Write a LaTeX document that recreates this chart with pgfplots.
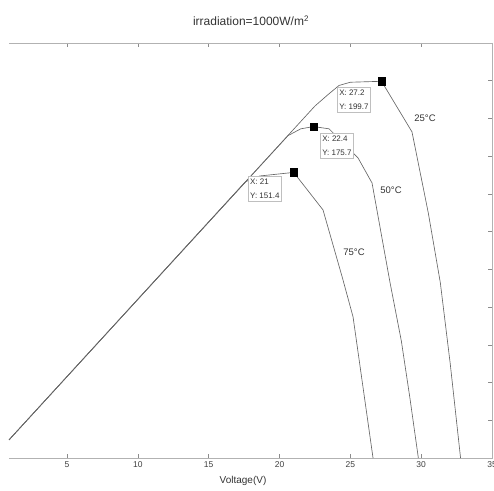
\documentclass[border=0pt]{standalone}
\usepackage{fontspec}
\setmainfont{Liberation Sans}
\usepackage{pgfplots}
\pgfplotsset{compat=1.18}
\begin{document}
\begin{tikzpicture}
\begin{axis}[
  at={(9pt,32pt)}, anchor=south west,
  scale only axis, width=483pt, height=415pt,
  xmin=0.9, xmax=35, ymin=0, ymax=220,
  xtick={5,10,...,35}, ytick={0,20,...,220},
  yticklabels={},
  xtick pos=both, ytick pos=right, xticklabel pos=lower,
  tick align=inside,
  major tick length=4pt,
  tick style={black!45, line width=0.5pt},
  axis line style={draw=none},
  tick label style={font=\fontsize{8.5}{10}\selectfont, text=black!75},
  xticklabel style={yshift=-0.5pt},
  /pgf/number format/assume math mode=true,
  clip=false,
]
\draw[black!30, line width=0.8pt] (rel axis cs:0,0) -- (rel axis cs:1,0) -- (rel axis cs:1,1) -- (rel axis cs:0,1);
% 25 C
\addplot[black!60, line width=0.65pt] coordinates {
(0.9,9.6) (22.5,186.6) (23.4,192.5) (24.2,197.5) (25.0,199.2) (27.2,199.7)
(29.35,172.9) (30.5,130) (31.35,93) (32.05,50) (32.78,0)};
% 50 C
\addplot[black!60, line width=0.65pt] coordinates {
(0.9,9.6) (20.6,170.9) (21.5,174.5) (22.4,175.7) (23.5,174.5)
(25.54,159.1) (26.53,145.8) (27.8,93) (28.6,62) (29.2,32) (29.8,0)};
% 75 C
\addplot[black!60, line width=0.65pt] coordinates {
(0.9,9.6) (17.6,146.5) (18.6,149.5) (21,151.4)
(23.07,131.5) (24.48,94.4) (25.19,74.8) (26.6,0)};
% maximum power points
\addplot[only marks, mark=square*, mark size=3.8pt, black] coordinates {(27.2,199.7) (22.4,175.7) (21,151.4)};
% data tips
\begin{scope}[every node/.style={draw=black!25, fill=white, anchor=north west, align=left,
   inner xsep=2pt, inner ysep=2.5pt, font=\fontsize{8}{14}\selectfont, text=black!80}]
\node at (axis cs:24.06,196.7) {X: 27.2\\Y: 199.7};
\node at (axis cs:22.86,172.3) {X: 22.4\\Y: 175.7};
\node at (axis cs:17.77,149.5) {X: 21\\Y: 151.4};
\end{scope}
\node[font=\fontsize{9.5}{11}\selectfont, text=black!80] at (axis cs:30.27,180.3) {25°C};
\node[font=\fontsize{9.5}{11}\selectfont, text=black!80] at (axis cs:27.87,142.1) {50°C};
\node[font=\fontsize{9.5}{11}\selectfont, text=black!80] at (axis cs:25.26,109.2) {75°C};
\end{axis}
\node[font=\fontsize{12}{14}\selectfont, text=black!80] at (251pt,469pt) {irradiation=1000W/m\textsuperscript{2}};
\node[font=\fontsize{10}{12}\selectfont, text=black!80] at (243pt,9pt) {Voltage(V)};
\pgfresetboundingbox
\path[use as bounding box] (0,0) rectangle (494pt,490pt);
\end{tikzpicture}
\end{document}
